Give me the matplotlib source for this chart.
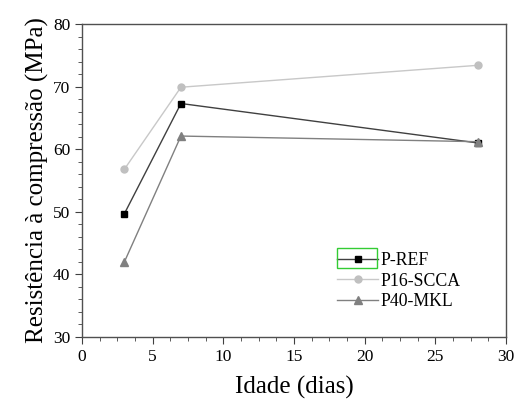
import matplotlib.pyplot as plt
from matplotlib.ticker import MultipleLocator
from matplotlib.patches import Rectangle

plt.rcParams['font.family'] = ['Liberation Serif', 'DejaVu Serif']

idade = [3, 7, 28]
pRef = [49.7, 67.3, 61.0]
p16Scca = [56.8, 69.9, 73.4]
p40Mkl = [42.0, 62.1, 61.2]

fig = plt.figure(figsize=(5.17, 4.03), dpi=100)
ax = fig.add_axes([82 / 517, 1 - 337 / 403, 424 / 517, 313 / 403])

ax.plot(idade, pRef, color="#404040", lw=1.0, marker="s", ms=5,
        mfc="black", mec="black", label="P-REF")
ax.plot(idade, p16Scca, color="#c8c8c8", lw=1.0, marker="o", ms=5,
        mfc="#c0c0c0", mec="#c0c0c0", label="P16-SCCA")
ax.plot(idade, p40Mkl, color="#808080", lw=1.0, marker="^", ms=6,
        mfc="#808080", mec="#808080", label="P40-MKL")

ax.set_xlim(0, 30)
ax.set_ylim(30, 80)
ax.xaxis.set_major_locator(MultipleLocator(5))
ax.xaxis.set_minor_locator(MultipleLocator(1.25))
ax.yaxis.set_major_locator(MultipleLocator(10))
ax.yaxis.set_minor_locator(MultipleLocator(2))
ax.tick_params(which="both", direction="out", top=False, right=False,
               labelsize=12.5, color="#404040")
ax.tick_params(which="major", length=5)
ax.tick_params(which="minor", length=3)
for s in ax.spines.values():
    s.set_color("#505050")
    s.set_linewidth(1.0)

ax.set_xlabel("Idade (dias)", fontsize=18, labelpad=8)
ax.set_ylabel("Resistência à compressão (MPa)", fontsize=18, labelpad=3)

leg = ax.legend(loc="upper left", bbox_to_anchor=(0.585, 0.294), frameon=False,
                fontsize=12.8, handlelength=2.3, handletextpad=0.15,
                labelspacing=0.2, borderaxespad=0)

# green selection box around the first legend entry
fig.patches.append(Rectangle((337 / 517, 1 - 268 / 403), 40 / 517, 20 / 403,
                             transform=fig.transFigure, fill=False,
                             edgecolor="#33cc33", lw=1.0))

fig.savefig("out.png", dpi=100)
